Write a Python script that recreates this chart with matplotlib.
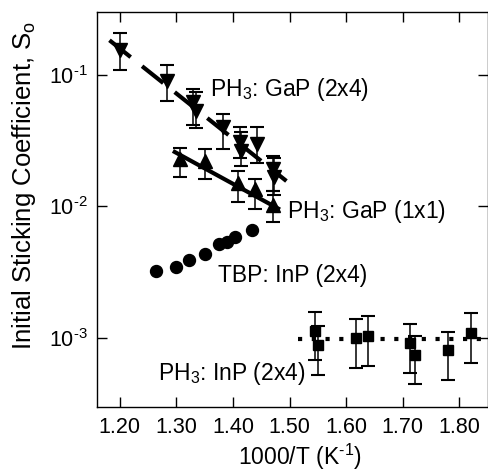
#!/usr/bin/env python3
# -*- coding: utf-8 -*-

# Initial sticking coefficient vs 1000/T for PH3 and TBP on GaP / InP

import matplotlib
matplotlib.use('Agg')
import matplotlib.pyplot as plt
from matplotlib.ticker import NullLocator, FixedLocator

# PH3 on GaP (2x4), down triangles
gap24_x = [1.200, 1.284, 1.330, 1.335, 1.383, 1.412, 1.414, 1.442, 1.471, 1.473]
gap24_y = [0.153, 0.0905, 0.062, 0.0534, 0.0399, 0.031, 0.0264, 0.0297, 0.0192, 0.0166]
gap24_lo = [0.108, 0.0637, 0.0415, 0.0392, 0.0272, 0.0232, 0.0203, 0.0213, 0.0131, 0.0123]
gap24_hi = [0.206, 0.119, 0.078, 0.0746, 0.0503, 0.0399, 0.0369, 0.0399, 0.0243, 0.0232]
gap24_fit_x = [1.182, 1.4945]
gap24_fit_y = [0.183, 0.0156]

# PH3 on GaP (1x1), up triangles
gap11_x = [1.306, 1.350, 1.409, 1.4385, 1.470]
gap11_y = [0.0229, 0.0222, 0.0152, 0.0135, 0.01035]
gap11_lo = [0.0166, 0.0161, 0.0108, 0.0096, 0.0076]
gap11_hi = [0.028, 0.0275, 0.0186, 0.0163, 0.0131]
gap11_fit_x = [1.294, 1.483]
gap11_fit_y = [0.0264, 0.00948]

# TBP on InP (2x4), circles
tbp_x = [1.265, 1.300, 1.3225, 1.350, 1.375, 1.390, 1.404, 1.434]
tbp_y = [0.00321, 0.0035, 0.00389, 0.00437, 0.00519, 0.00534, 0.00584, 0.00667]

# PH3 on InP (2x4), squares
inp_x = [1.5445, 1.5504, 1.618, 1.6385, 1.7124, 1.721, 1.779, 1.820]
inp_y = [0.00113, 0.000885, 0.000996, 0.00104, 0.000912, 0.000741, 0.000809, 0.00109]
inp_lo = [0.000679, 0.000523, 0.000593, 0.000615, 0.000545, 0.000445, 0.000482, 0.000652]
inp_hi = [0.00157, 0.00124, 0.0014, 0.00146, 0.00129, 0.00104, 0.00112, 0.00154]
inp_fit_x = [1.5145, 1.85]
inp_fit_y = [0.00098, 0.00098]

x_ticks = [1.20, 1.30, 1.40, 1.50, 1.60, 1.70, 1.80]
y_ticks = [1e-3, 1e-2, 1e-1]
y_tick_labels = [r'10$^{\text{-}3}$', r'10$^{\text{-}2}$', r'10$^{\text{-}1}$']

TICK_SIZE = 15.5
NOTE_SIZE = 16.5


def err(y, lo, hi):
    return [[a - b for a, b in zip(y, lo)], [b - a for a, b in zip(y, hi)]]


def main():
    plt.rcParams['font.family'] = ['Liberation Sans', 'DejaVu Sans']
    plt.rcParams['mathtext.fontset'] = 'custom'
    plt.rcParams['mathtext.rm'] = 'Liberation Sans'
    plt.rcParams['mathtext.it'] = 'Liberation Sans:italic'
    plt.rcParams['mathtext.bf'] = 'Liberation Sans:bold'
    plt.rcParams['mathtext.default'] = 'regular'

    fig = plt.figure(figsize=(4.88, 4.74), dpi=100)
    ax = fig.add_axes([0.1988, 0.1414, 0.8007, 0.8333])

    eb = dict(fmt='none', ecolor='black', elinewidth=1.1, capsize=5, capthick=1.5)

    # fit lines
    ax.plot(gap24_fit_x, gap24_fit_y, color='black', lw=3, ls=(0, (6.5, 3.5)), dash_capstyle='butt')
    ax.plot(gap11_fit_x, gap11_fit_y, color='black', lw=3, solid_capstyle='butt')
    ax.plot(inp_fit_x, inp_fit_y, color='black', lw=3, ls=(0, (1, 2.3)), dash_capstyle='butt')

    ax.errorbar(gap24_x, gap24_y, yerr=err(gap24_y, gap24_lo, gap24_hi), **eb)
    ax.plot(gap24_x, gap24_y, 'v', color='black', ms=9.5)

    ax.errorbar(gap11_x, gap11_y, yerr=err(gap11_y, gap11_lo, gap11_hi), **eb)
    ax.plot(gap11_x, gap11_y, '^', color='black', ms=9.5)

    ax.plot(tbp_x, tbp_y, 'o', color='black', ms=8.6)

    ax.errorbar(inp_x, inp_y, yerr=err(inp_y, inp_lo, inp_hi), **eb)
    ax.plot(inp_x, inp_y, 's', color='black', ms=7)

    # labels on the curves
    ax.text(1.359, 0.0688, r'PH$_3$: GaP (2x4)', va='baseline', fontsize=NOTE_SIZE)
    ax.text(1.4956, 0.0082, r'PH$_3$: GaP (1x1)', va='baseline', fontsize=NOTE_SIZE)
    ax.text(1.3737, 0.00269, 'TBP: InP (2x4)', va='baseline', fontsize=NOTE_SIZE)
    ax.text(1.2677, 0.000478, r'PH$_3$: InP (2x4)', va='baseline', fontsize=NOTE_SIZE)

    ax.set_yscale('log')
    ax.set_xlim(1.16, 1.85)
    ax.set_ylim(3e-4, 0.3)
    ax.xaxis.set_major_locator(FixedLocator(x_ticks))
    ax.set_xticklabels([f"{t:.2f}" for t in x_ticks])
    ax.yaxis.set_major_locator(FixedLocator(y_ticks))
    ax.yaxis.set_minor_locator(NullLocator())
    ax.set_yticklabels(y_tick_labels)

    ax.tick_params(which='both', direction='in', top=True, right=True,
                   length=7, width=1, labelsize=TICK_SIZE)
    ax.tick_params(axis='x', pad=7)
    ax.tick_params(axis='y', pad=6.5)
    for s in ax.spines.values():
        s.set_linewidth(1)

    ax.set_xlabel(r'1000/T (K$^{\text{-}1}$)', fontsize=16.5)
    ax.set_ylabel(r'Initial Sticking Coefficient, S$_o$', fontsize=18.5)
    ax.yaxis.set_label_coords(-0.15, 0.56)
    ax.xaxis.set_label_coords(0.52, -0.088)

    fig.savefig('out.png', dpi=100)


if __name__ == "__main__":
    main()
